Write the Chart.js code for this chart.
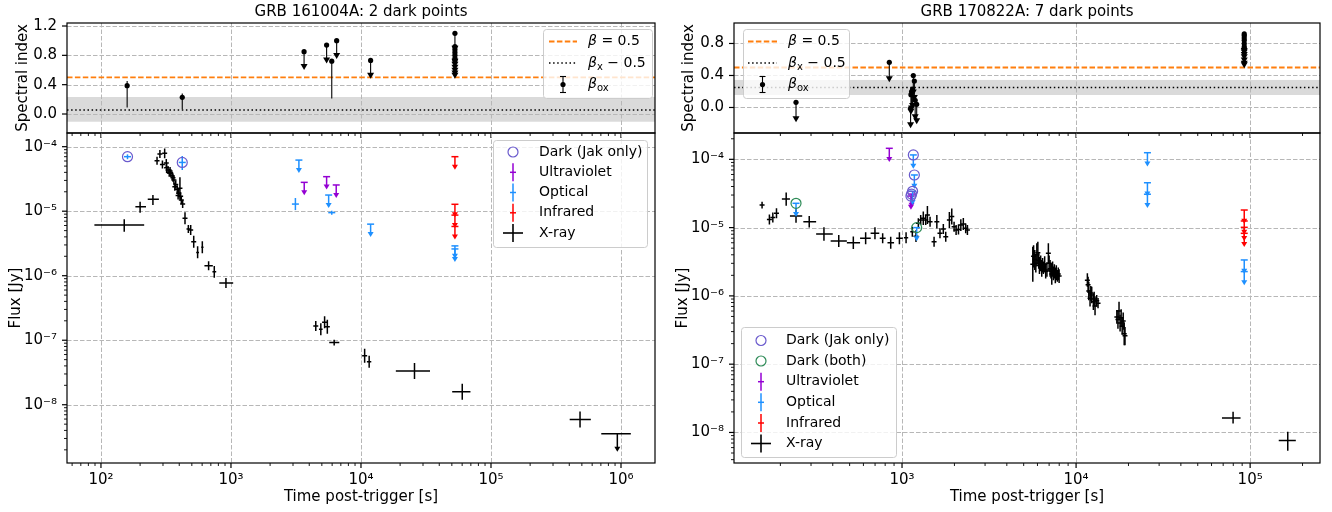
<!DOCTYPE html>
<html><head><meta charset="utf-8">
<script src="https://cdn.jsdelivr.net/npm/chart.js@4.4.1/dist/chart.umd.min.js"></script>
<style>
html,body{margin:0;padding:0;background:#fff;}
#wrap{position:relative;width:1332px;height:512px;overflow:hidden;background:#fff}
#wrap canvas{position:absolute}
</style></head><body><div id="wrap">
<canvas id="lt" width="670" height="140" style="left:0px;top:0px"></canvas>
<canvas id="lb" width="670" height="386" style="left:0px;top:126px"></canvas>
<canvas id="rt" width="666" height="140" style="left:666px;top:0px"></canvas>
<canvas id="rb" width="666" height="386" style="left:666px;top:126px"></canvas>
</div>
<script>
// ================= DATA: GRB 161004A (left) =================
const L_title = 'GRB 161004A: 2 dark points';
// X-ray: [t, tLow, tHigh, flux, fluxLow, fluxHigh]   (null: no horizontal bar)
const L_xray = [
  [151, 89, 215, 6.1e-6, 4.8e-6, 7.5e-6],
  [200, 184, 222, 1.17e-5, 9.5e-6, 1.40e-5],
  [251, 229, 279, 1.53e-5, 1.25e-5, 1.78e-5],
  [270, null, null, 6.06e-5, 5.26e-5, 6.99e-5],
  [284, null, null, 7.7e-5, 6.7e-5, 8.9e-5],
  [297, null, null, 5.3e-5, 4.6e-5, 6.1e-5],
  [309, null, null, 7.9e-5, 6.6e-5, 9.4e-5],
  [318, null, null, 5.6e-5, 4.86e-5, 6.46e-5],
  [320, null, null, 4.7e-5, 3.9e-5, 5.5e-5],
  [328, null, null, 4.35e-5, 3.77e-5, 5.02e-5],
  [335, null, null, 3.95e-5, 3.43e-5, 4.55e-5],
  [340, null, null, 4.2e-5, 3.64e-5, 4.84e-5],
  [345, null, null, 3.87e-5, 3.36e-5, 4.46e-5],
  [353, null, null, 3.55e-5, 3.08e-5, 4.09e-5],
  [358, null, null, 3.3e-5, 2.86e-5, 3.8e-5],
  [364, null, null, 3.05e-5, 2.65e-5, 3.52e-5],
  [370, null, null, 2.4e-5, 2.08e-5, 2.77e-5],
  [376, null, null, 2.6e-5, 2.25e-5, 3.0e-5],
  [386, null, null, 2.19e-5, 1.9e-5, 2.52e-5],
  [392, null, null, 1.75e-5, 1.52e-5, 2.02e-5],
  [396, null, null, 1.9e-5, 1.65e-5, 2.19e-5],
  [405, null, null, 2.26e-5, 1.53e-5, 3.35e-5],
  [410, null, null, 1.7e-5, 1.47e-5, 1.96e-5],
  [415, null, null, 1.49e-5, 1.29e-5, 1.72e-5],
  [425, null, null, 1.29e-5, 1.12e-5, 1.49e-5],
  [443, null, null, 7.76e-6, 6.26e-6, 9.61e-6],
  [470, 455, 485, 5.3e-6, 4.6e-6, 6.11e-6],
  [490, null, null, 5.1e-6, 4.27e-6, 6.09e-6],
  [517, null, null, 3.37e-6, 2.72e-6, 4.18e-6],
  [554, 540, 568, 2.3e-6, 1.86e-6, 2.85e-6],
  [602, 590, 615, 2.75e-6, 2.22e-6, 3.41e-6],
  [673, 625, 725, 1.43e-6, 1.22e-6, 1.68e-6],
  [744, 720, 770, 1.15e-6, 9.28e-7, 1.42e-6],
  [915, 813, 1040, 7.7e-7, 6.44e-7, 9.2e-7],
  [4490, null, null, 1.66e-7, 1.39e-7, 1.98e-7],
  [4910, 4750, 5070, 1.48e-7, 1.19e-7, 1.83e-7],
  [5250, null, null, 1.9e-7, 1.53e-7, 2.35e-7],
  [5510, null, null, 1.62e-7, 1.26e-7, 2.08e-7],
  [6220, 5700, 6810, 9.2e-8, 8.27e-8, 1.02e-7],
  [10670, null, null, 5.75e-8, 4.48e-8, 7.38e-8],
  [11560, 11100, 12000, 4.65e-8, 3.75e-8, 5.76e-8],
  [25800, 18540, 33960, 3.33e-8, 2.5e-8, 4.43e-8],
  [60100, 50300, 69500, 1.59e-8, 1.19e-8, 2.12e-8],
  [484000, 403000, 586000, 5.9e-9, 4.43e-9, 7.85e-9]
];
// X-ray upper limit: [t, tLow, tHigh, flux limit, arrow tip]
const L_xrayUL = [[937000, 705000, 1190000, 3.55e-9, 1.87e-9]];
// detections: [t, flux, fluxLow, fluxHigh]; upper limits: [t, flux]
const L_optDet = [[160, 7.0e-5, 6.4e-5, 7.6e-5], [422, 5.7e-5, 4.35e-5, 7.18e-5], [3130, 1.29e-5, 1.04e-5, 1.6e-5], [5960, 9.5e-6, 8.8e-6, 1.02e-5]];
const L_optUL = [[3330, 6.2e-5], [5640, 1.78e-5], [11860, 6.3e-6], [52800, 2.9e-6], [52800, 2.6e-6]];
const L_uvUL = [[3660, 2.8e-5], [5440, 3.43e-5], [6450, 2.55e-5]];
const L_irUL = [[52800, 7.0e-5], [52800, 1.28e-5], [52800, 8.7e-6], [52800, 5.8e-6]];
const L_darkJak = [[160, 7.0e-5], [422, 5.7e-5]];
// spectral index beta_ox: [t, value, low, high]; limits: [t, value]
const L_betaOx = [[159, 0.386, 0.09, 0.45], [422, 0.228, 0.064, 0.28], [5960, 0.72, 0.21, 0.74]];
const L_betaOxUL = [[3650, 0.85], [5440, 0.94], [6500, 1.00], [11860, 0.73], [52800, 1.10], [52800, 0.92], [52800, 0.88], [52800, 0.84], [52800, 0.80], [52800, 0.76], [52800, 0.73]];
const L_betaRef = 0.5;
const L_betaXm = 0.055;
const L_betaXband = [-0.105, 0.232];

// ================= DATA: GRB 170822A (right) =================
const R_title = 'GRB 170822A: 7 dark points';
const R_xray = [
  [157, null, null, 2.14e-5, 1.91e-5, 2.39e-5],
  [173, null, null, 1.32e-5, 1.11e-5, 1.56e-5],
  [181, null, null, 1.41e-5, 1.19e-5, 1.67e-5],
  [190, null, null, 1.62e-5, 1.37e-5, 1.92e-5],
  [216, 204, 227, 2.62e-5, 2.09e-5, 3.28e-5],
  [246, 227, 267, 1.48e-5, 1.18e-5, 1.85e-5],
  [293, 271, 321, 1.22e-5, 1.0e-5, 1.48e-5],
  [356, 321, 400, 8.05e-6, 6.42e-6, 1.01e-5],
  [433, 389, 482, 6.36e-6, 5.2e-6, 7.78e-6],
  [525, 482, 574, 6.0e-6, 4.85e-6, 7.42e-6],
  [618, 574, 661, 6.97e-6, 5.69e-6, 8.53e-6],
  [699, 660, 740, 8.26e-6, 6.75e-6, 1.01e-5],
  [774, 745, 805, 6.97e-6, 5.89e-6, 8.25e-6],
  [861, 825, 900, 6.0e-6, 4.9e-6, 7.34e-6],
  [966, 925, 1010, 6.97e-6, 5.69e-6, 8.53e-6],
  [1055, 1025, 1085, 7.1e-6, 5.9e-6, 8.55e-6],
  [1146, 1115, 1180, 8.7e-6, 7.35e-6, 1.03e-5],
  [1203, null, null, 7.5e-6, 6.17e-6, 9.12e-6],
  [1241, null, null, 1.16e-5, 9.8e-6, 1.37e-5],
  [1280, null, null, 1.29e-5, 1.09e-5, 1.53e-5],
  [1325, null, null, 1.37e-5, 1.09e-5, 1.72e-5],
  [1368, null, null, 1.29e-5, 1.09e-5, 1.53e-5],
  [1399, null, null, 1.53e-5, 1.13e-5, 2.07e-5],
  [1449, null, null, 1.22e-5, 1.03e-5, 1.44e-5],
  [1528, null, null, 6.2e-6, 5.24e-6, 7.34e-6],
  [1585, null, null, 1.22e-5, 9.74e-6, 1.53e-5],
  [1652, null, null, 8.26e-6, 6.98e-6, 9.78e-6],
  [1727, null, null, 9.55e-6, 8.07e-6, 1.13e-5],
  [1783, null, null, 7.36e-6, 6.22e-6, 8.71e-6],
  [1871, null, null, 1.29e-5, 9.85e-6, 1.69e-5],
  [1931, null, null, 1.45e-5, 1.11e-5, 1.9e-5],
  [1991, null, null, 1.03e-5, 8.7e-6, 1.22e-5],
  [2045, null, null, 9.2e-6, 7.77e-6, 1.09e-5],
  [2110, null, null, 9.4e-6, 7.94e-6, 1.11e-5],
  [2177, null, null, 1.09e-5, 8.9e-6, 1.33e-5],
  [2250, null, null, 1.13e-5, 9.2e-6, 1.38e-5],
  [2322, null, null, 9.75e-6, 8.24e-6, 1.15e-5],
  [2375, null, null, 9.2e-6, 7.77e-6, 1.09e-5],
  [5640, null, null, 2.9e-6, 1.61e-6, 5.25e-6],
  [5700, null, null, 3.8e-6, 2.6e-6, 5.5e-6],
  [5790, null, null, 3.4e-6, 2.4e-6, 4.7e-6],
  [5870, null, null, 3.0e-6, 2.2e-6, 4.1e-6],
  [5950, null, null, 4.0e-6, 2.7e-6, 5.9e-6],
  [6030, null, null, 4.3e-6, 3.0e-6, 6.2e-6],
  [6100, null, null, 3.3e-6, 2.5e-6, 4.4e-6],
  [6160, null, null, 2.8e-6, 2.1e-6, 3.7e-6],
  [6260, null, null, 3.0e-6, 2.3e-6, 3.9e-6],
  [6350, null, null, 2.5e-6, 1.9e-6, 3.35e-6],
  [6420, null, null, 2.8e-6, 2.2e-6, 3.6e-6],
  [6490, null, null, 2.6e-6, 2.1e-6, 3.2e-6],
  [6600, null, null, 2.9e-6, 2.2e-6, 3.8e-6],
  [6690, null, null, 2.3e-6, 1.8e-6, 3.0e-6],
  [6800, null, null, 2.4e-6, 1.9e-6, 3.1e-6],
  [6930, null, null, 4.2e-6, 3.0e-6, 5.9e-6],
  [7000, null, null, 3.0e-6, 2.3e-6, 3.9e-6],
  [7090, null, null, 2.5e-6, 1.9e-6, 3.35e-6],
  [7170, null, null, 2.3e-6, 1.8e-6, 3.0e-6],
  [7250, null, null, 2.1e-6, 1.45e-6, 3.0e-6],
  [7330, null, null, 2.5e-6, 1.9e-6, 3.2e-6],
  [7410, null, null, 2.15e-6, 1.7e-6, 2.7e-6],
  [7500, null, null, 2.3e-6, 1.8e-6, 2.9e-6],
  [7600, null, null, 2.0e-6, 1.53e-6, 2.6e-6],
  [7700, null, null, 2.2e-6, 1.7e-6, 2.8e-6],
  [7810, null, null, 1.97e-6, 1.61e-6, 2.4e-6],
  [7900, null, null, 2.1e-6, 1.7e-6, 2.6e-6],
  [7990, null, null, 1.95e-6, 1.55e-6, 2.45e-6],
  [11610, null, null, 1.7e-6, 1.36e-6, 2.14e-6],
  [11720, null, null, 1.45e-6, 1.1e-6, 1.9e-6],
  [11830, null, null, 1.18e-6, 8.6e-7, 1.61e-6],
  [12030, null, null, 9.2e-7, 7.0e-7, 1.22e-6],
  [12150, null, null, 1.1e-6, 8.5e-7, 1.4e-6],
  [12300, null, null, 1.03e-6, 7.8e-7, 1.36e-6],
  [12570, null, null, 8.2e-7, 6.2e-7, 1.09e-6],
  [12700, null, null, 9.0e-7, 7.0e-7, 1.15e-6],
  [12850, null, null, 7.1e-7, 5.2e-7, 9.8e-7],
  [13140, null, null, 8.5e-7, 7.0e-7, 1.03e-6],
  [13370, null, null, 7.8e-7, 6.6e-7, 9.3e-7],
  [17150, null, null, 4.9e-7, 3.9e-7, 6.2e-7],
  [17400, null, null, 4.5e-7, 3.3e-7, 6.2e-7],
  [17650, null, null, 6.0e-7, 4.4e-7, 8.2e-7],
  [17900, null, null, 4.0e-7, 3.0e-7, 5.3e-7],
  [18150, null, null, 4.8e-7, 3.6e-7, 6.4e-7],
  [18400, null, null, 3.6e-7, 2.7e-7, 4.8e-7],
  [18650, null, null, 4.3e-7, 3.2e-7, 5.7e-7],
  [18900, null, null, 2.8e-7, 1.9e-7, 4.1e-7],
  [19100, null, null, 2.6e-7, 1.9e-7, 3.5e-7],
  [79800, 68900, 88100, 1.63e-8, 1.35e-8, 2.01e-8],
  [164500, 146000, 183000, 7.6e-9, 5.4e-9, 1.02e-8]
];
const R_xrayUL = [];
const R_optDet = [];
const R_optUL = [[246, 2.27e-5], [1214, 1.0e-5], [1161, 1.16e-4], [1177, 5.9e-5], [1150, 3.4e-5], [25700, 1.25e-4], [25700, 4.54e-5], [25700, 3.08e-5], [92500, 3.36e-6], [92500, 2.27e-6]];
const R_uvUL = [[845, 1.45e-4], [1135, 3.1e-5], [1125, 2.9e-5]];
const R_irUL = [[92500, 1.81e-5], [92500, 1.25e-5], [92500, 1.01e-5], [92500, 8.25e-6]];
const R_darkJak = [[1161, 1.16e-4], [1177, 5.9e-5], [1150, 3.4e-5], [1135, 3.1e-5], [1125, 2.9e-5]];
const R_darkBoth = [[246, 2.27e-5], [1214, 1.0e-5]];
const R_betaOx = [];
const R_betaOxUL = [[246, 0.065], [845, 0.565], [1161, 0.40], [1177, 0.33], [1150, 0.23], [1135, 0.20], [1125, 0.16], [1190, 0.09], [1214, 0.04], [1120, -0.01],
  [92500, 0.92], [92500, 0.90], [92500, 0.87], [92500, 0.84], [92500, 0.80], [92500, 0.76], [92500, 0.74]];
const R_betaRef = 0.5;
const R_betaXm = 0.25;
const R_betaXband = [0.156, 0.344];

// limit arrow lengths
const UL_FRAC = 0.37;      // flux upper-limit arrow: tip at flux*(1-UL_FRAC)
const BETA_ARROW = 0.25;   // spectral index limit arrow length

// tick labels
const L_xMajor = [1e2, 1e3, 1e4, 1e5, 1e6];
const R_xMajor = [1e3, 1e4, 1e5];
const L_betaTicks = [0.0, 0.4, 0.8, 1.2];
const R_betaTicks = [0.0, 0.4, 0.8];

// ================= helpers =================
Chart.defaults.font.family = "'DejaVu Sans', sans-serif";
Chart.defaults.font.size = 15;
Chart.defaults.color = '#000';
const COL = { uv: '#9400d3', opt: '#1e90ff', ir: '#ff0000', jak: '#6a5acd', both: '#2e8b57', orange: '#ff7f0e' };
const SUP = {'-':'⁻','0':'⁰','1':'¹','2':'²','3':'³','4':'⁴','5':'⁵','6':'⁶','7':'⁷','8':'⁸','9':'⁹'};
function powLabel(v) { const e = Math.round(Math.log10(v)); return '10' + String(e).replace(/./g, c => SUP[c]); }
function logTickList(min, max) {
  const out = [];
  for (let e = Math.floor(Math.log10(min)); e <= Math.ceil(Math.log10(max)); e++)
    for (let m = 1; m <= 9; m++) { const v = parseFloat(m + 'e' + e); if (v >= min && v <= max) out.push({ value: v, major: m === 1 }); }
  return out;
}
const xrayPts = a => a.map(r => ({ x: r[0], xlo: r[1], xhi: r[2], y: r[3], ylo: r[4], yhi: r[5] }));
const xrayULPts = a => a.map(r => ({ x: r[0], xlo: r[1], xhi: r[2], y: r[3], tip: r[4] }));
const detPts = a => a.map(r => ({ x: r[0], y: r[1], ylo: r[2], yhi: r[3] }));
const ulPts = a => a.map(r => ({ x: r[0], y: r[1], tip: r[1] * (1 - UL_FRAC) }));
const ptPts = a => a.map(r => ({ x: r[0], y: r[1] }));
const betaPts = a => a.map(r => ({ x: r[0], y: r[1], ylo: r[2], yhi: r[3] }));
const betaULPts = a => a.map(r => ({ x: r[0], y: r[1], tip: r[1] - BETA_ARROW }));

function tri(ctx, x, yTip, w, h) { ctx.beginPath(); ctx.moveTo(x - w, yTip - h); ctx.lineTo(x + w, yTip - h); ctx.lineTo(x, yTip); ctx.closePath(); ctx.fill(); }
function seg(ctx, x0, y0, x1, y1) { ctx.beginPath(); ctx.moveTo(x0, y0); ctx.lineTo(x1, y1); ctx.stroke(); }

const marksPlugin = {
  id: 'marks',
  afterDatasetsDraw(chart) {
    const { ctx, chartArea: a } = chart; const xs = chart.scales.x, ys = chart.scales.y;
    ctx.save(); ctx.beginPath(); ctx.rect(a.left, a.top, a.right - a.left, a.bottom - a.top); ctx.clip();
    ctx.setLineDash([]);
    chart.data.datasets.forEach(ds => {
      ctx.strokeStyle = ds.markColor; ctx.fillStyle = ds.markColor;
      ds.data.forEach(p => {
        const X = xs.getPixelForValue(p.x), Y = ys.getPixelForValue(p.y);
        if (ds.kind === 'xray') {
          ctx.lineWidth = 1.5; ctx.beginPath();
          ctx.moveTo(X, ys.getPixelForValue(p.ylo)); ctx.lineTo(X, ys.getPixelForValue(p.yhi));
          if (p.xlo != null) { ctx.moveTo(xs.getPixelForValue(p.xlo), Y); ctx.lineTo(xs.getPixelForValue(p.xhi), Y); }
          else { ctx.moveTo(X - 2.5, Y); ctx.lineTo(X + 2.5, Y); }
          ctx.stroke();
        } else if (ds.kind === 'xrayUL') {
          const T = ys.getPixelForValue(p.tip);
          ctx.lineWidth = 1.5;
          seg(ctx, xs.getPixelForValue(p.xlo), Y, xs.getPixelForValue(p.xhi), Y);
          seg(ctx, X, Y, X, T - 4); tri(ctx, X, T, 3, 5);
        } else if (ds.kind === 'det') {
          ctx.lineWidth = 1.5;
          seg(ctx, X, ys.getPixelForValue(p.ylo), X, ys.getPixelForValue(p.yhi));
          seg(ctx, X - 3.5, Y, X + 3.5, Y);
        } else if (ds.kind === 'ul') {
          const T = ys.getPixelForValue(p.tip);
          ctx.lineWidth = 1.5;
          seg(ctx, X - 3.5, Y, X + 3.5, Y);
          seg(ctx, X, Y, X, T - 4); tri(ctx, X, T, 3, 5);
        } else if (ds.kind === 'dark') {
          ctx.lineWidth = 1.2; ctx.beginPath(); ctx.arc(X, Y, 5, 0, Math.PI * 2); ctx.stroke();
        } else if (ds.kind === 'beta') {
          ctx.lineWidth = 1.1;
          seg(ctx, X, ys.getPixelForValue(p.ylo), X, ys.getPixelForValue(p.yhi));
          ctx.beginPath(); ctx.arc(X, Y, 2.6, 0, Math.PI * 2); ctx.fill();
        } else if (ds.kind === 'betaUL') {
          const T = ys.getPixelForValue(p.tip);
          ctx.lineWidth = 1.1;
          seg(ctx, X, Y, X, T - 5); tri(ctx, X, T, 3.5, 6);
          ctx.beginPath(); ctx.arc(X, Y, 2.6, 0, Math.PI * 2); ctx.fill();
        }
      });
    });
    ctx.restore();
  }
};

function drawParts(ctx, parts, x, y) {
  ctx.textBaseline = 'middle'; ctx.textAlign = 'left'; ctx.fillStyle = '#000';
  parts.forEach(([t, st]) => {
    let font = '14px "DejaVu Sans"', dy = 0;
    if (st === 'i') font = 'italic 14px "DejaVu Sans"';
    if (st === 'sub') { font = '10px "DejaVu Sans"'; dy = 4; }
    ctx.font = font; ctx.fillText(t, x, y + dy); x += ctx.measureText(t).width;
  });
}
function drawHandle(ctx, h, x0, x1, y) {
  const cx = (x0 + x1) / 2;
  ctx.save(); ctx.setLineDash([]);
  if (h.k === 'dash') { ctx.strokeStyle = COL.orange; ctx.lineWidth = 1.8; ctx.setLineDash([5.5, 2.4]); seg(ctx, x0, y, x1, y); }
  else if (h.k === 'dot') { ctx.strokeStyle = '#000'; ctx.lineWidth = 1.6; ctx.setLineDash([1.5, 2.6]); seg(ctx, x0, y, x1, y); }
  else if (h.k === 'betaox') { ctx.strokeStyle = '#000'; ctx.fillStyle = '#000'; ctx.lineWidth = 1.1; seg(ctx, cx, y - 8, cx, y + 8); seg(ctx, cx - 3, y - 8, cx + 3, y - 8); seg(ctx, cx - 3, y + 8, cx + 3, y + 8); ctx.beginPath(); ctx.arc(cx, y, 2.6, 0, 7); ctx.fill(); }
  else if (h.k === 'circle') { ctx.strokeStyle = h.c; ctx.lineWidth = 1.2; ctx.beginPath(); ctx.arc(cx, y, 5, 0, 7); ctx.stroke(); }
  else if (h.k === 'eb') { ctx.strokeStyle = h.c; ctx.lineWidth = 1.5; seg(ctx, cx, y - 9, cx, y + 9); seg(ctx, cx - 3, y, cx + 3, y); }
  else if (h.k === 'cross') { ctx.strokeStyle = '#000'; ctx.lineWidth = 1.6; seg(ctx, cx - 10, y, cx + 10, y); seg(ctx, cx, y - 9, cx, y + 9); }
  ctx.restore();
}
function drawLegend(ctx, L) {
  ctx.save(); ctx.setLineDash([]);
  ctx.beginPath();
  if (ctx.roundRect) ctx.roundRect(L.x + 0.5, L.y + 0.5, L.w, L.h, 3); else ctx.rect(L.x + 0.5, L.y + 0.5, L.w, L.h);
  ctx.fillStyle = 'rgba(255,255,255,0.8)'; ctx.fill();
  ctx.strokeStyle = '#cccccc'; ctx.lineWidth = 1; ctx.stroke();
  L.rows.forEach(r => { drawHandle(ctx, r.h, L.hx0, L.hx1, r.y); drawParts(ctx, r.parts, L.tx, r.y); });
  ctx.restore();
}

const decoPlugin = {
  id: 'deco',
  beforeDatasetsDraw(chart, args, o) {
    const { ctx, chartArea: a } = chart; const xs = chart.scales.x, ys = chart.scales.y;
    ctx.save();
    if (o.band) {
      const yT = ys.getPixelForValue(o.band[1]), yB = ys.getPixelForValue(o.band[0]);
      ctx.fillStyle = 'rgba(211,211,211,0.85)'; ctx.fillRect(a.left, yT, a.right - a.left, yB - yT);
    }
    ctx.strokeStyle = '#b7b7b7'; ctx.lineWidth = 1; ctx.setLineDash([4.5, 2]);
    ctx.beginPath();
    xs.ticks.forEach(t => { if (t.major) { const p = Math.round(xs.getPixelForValue(t.value)) + 0.5; ctx.moveTo(p, a.top); ctx.lineTo(p, a.bottom); } });
    ys.ticks.forEach(t => { if (t.major) { const p = Math.round(ys.getPixelForValue(t.value)) + 0.5; ctx.moveTo(a.left, p); ctx.lineTo(a.right, p); } });
    ctx.stroke();
    (o.hlines || []).forEach(h => {
      ctx.strokeStyle = h.color; ctx.lineWidth = h.width; ctx.setLineDash(h.dash);
      const p = ys.getPixelForValue(h.value); seg(ctx, a.left, p, a.right, p);
    });
    ctx.restore();
  },
  afterDraw(chart, args, o) {
    const { ctx, chartArea: a } = chart; const xs = chart.scales.x, ys = chart.scales.y;
    ctx.save(); ctx.setLineDash([]); ctx.strokeStyle = '#000';
    xs.ticks.forEach(t => { const p = xs.getPixelForValue(t.value); ctx.lineWidth = t.major ? 1.2 : 0.9; seg(ctx, p, a.bottom, p, a.bottom + (t.major ? 5 : 3)); });
    ys.ticks.forEach(t => { const p = ys.getPixelForValue(t.value); ctx.lineWidth = t.major ? 1.2 : 0.9; seg(ctx, a.left, p, a.left - (t.major ? 5 : 3), p); });
    ctx.lineWidth = 1.2; ctx.strokeRect(a.left, a.top, a.right - a.left, a.bottom - a.top);
    if (o.legend) drawLegend(ctx, o.legend);
    ctx.restore();
  }
};

function xScale(min, max, labels) {
  return {
    type: 'logarithmic', position: 'bottom', min, max, bounds: 'data',
    grid: { display: false, drawTicks: false, tickLength: 0 }, border: { display: false },
    afterBuildTicks: s => { s.ticks = logTickList(min, max); },
    afterFit: s => { s.height = labels ? 49 : 7; s.paddingLeft = 0; s.paddingRight = 0; },
    ticks: { display: labels, autoSkip: false, maxRotation: 0, minRotation: 0, padding: 8, font: { size: 15 },
      callback: (v, i, t) => (t[i].major ? powLabel(v) : '') },
    title: labels ? { display: true, text: 'Time post-trigger [s]', font: { size: 15 }, padding: { top: 0, bottom: 6 } } : { display: false }
  };
}
function yLogScale(min, max, width, titlePad) {
  return {
    type: 'logarithmic', position: 'left', min, max, bounds: 'data',
    grid: { display: false, drawTicks: false, tickLength: 0 }, border: { display: false },
    afterBuildTicks: s => { s.ticks = logTickList(min, max); },
    afterFit: s => { s.width = width; s.paddingTop = 0; s.paddingBottom = 0; },
    ticks: { autoSkip: false, padding: 10, font: { size: 15 }, callback: (v, i, t) => (t[i].major ? powLabel(v) : '') },
    title: { display: true, text: 'Flux [Jy]', font: { size: 15 }, padding: { top: titlePad, bottom: 0 } }
  };
}
function yLinScale(min, max, ticksArr, width, titlePad) {
  return {
    type: 'linear', position: 'left', min, max, bounds: 'data',
    grid: { display: false, drawTicks: false, tickLength: 0 }, border: { display: false },
    afterBuildTicks: s => { s.ticks = ticksArr.map(v => ({ value: v, major: true })); },
    afterFit: s => { s.width = width; s.paddingTop = 0; s.paddingBottom = 0; },
    ticks: { autoSkip: false, padding: 10, font: { size: 15 }, callback: v => Number(v).toFixed(1) },
    title: { display: true, text: 'Spectral index', font: { size: 15 }, padding: { top: titlePad, bottom: 0 } }
  };
}
const base = { responsive: false, animation: false, devicePixelRatio: 1, events: [] };
function ds(kind, color, data) { return { kind, markColor: color, data, pointRadius: 0, showLine: false }; }

const topLegendRows = [
  { y: 41.5, h: { k: 'dash' }, parts: [['β', 'i'], [' = 0.5', 'n']] },
  { y: 63, h: { k: 'dot' }, parts: [['β', 'i'], ['x', 'sub'], [' − 0.5', 'n']] },
  { y: 84.5, h: { k: 'betaox' }, parts: [['β', 'i'], ['ox', 'sub']] }
];

// ----- left top -----
new Chart(document.getElementById('lt'), {
  type: 'scatter',
  data: { datasets: [ds('beta', '#000', betaPts(L_betaOx)), ds('betaUL', '#000', betaULPts(L_betaOxUL))] },
  options: Object.assign({}, base, {
    layout: { padding: { left: 0, right: 15, top: 0, bottom: 0 } },
    scales: { x: xScale(54.8, 1.826e6, false), y: yLinScale(-0.259, 1.241, L_betaTicks, 67, 14) },
    plugins: {
      legend: { display: false }, tooltip: { enabled: false },
      title: { display: true, text: L_title, fullSize: false, font: { size: 15, weight: 'normal' }, padding: { top: 3, bottom: 2 } },
      deco: { band: L_betaXband, hlines: [{ value: L_betaRef, color: COL.orange, width: 1.8, dash: [5.5, 2.4] }, { value: L_betaXm, color: '#000', width: 1.6, dash: [1.5, 2.6] }],
        legend: { x: 543, y: 29, w: 109, h: 69, hx0: 549, hx1: 577, tx: 588, rows: topLegendRows } }
    }
  }),
  plugins: [decoPlugin, marksPlugin]
});

// ----- left bottom -----
new Chart(document.getElementById('lb'), {
  type: 'scatter',
  data: { datasets: [
    ds('xray', '#000', xrayPts(L_xray)), ds('xrayUL', '#000', xrayULPts(L_xrayUL)),
    ds('ul', COL.uv, ulPts(L_uvUL)), ds('det', COL.opt, detPts(L_optDet)), ds('ul', COL.opt, ulPts(L_optUL)),
    ds('ul', COL.ir, ulPts(L_irUL)), ds('dark', COL.jak, ptPts(L_darkJak))
  ] },
  options: Object.assign({}, base, {
    layout: { padding: { left: 0, right: 15, top: 7, bottom: 0 } },
    scales: { x: xScale(54.8, 1.826e6, true), y: yLogScale(1.25e-9, 1.63e-4, 67, 7) },
    plugins: {
      legend: { display: false }, tooltip: { enabled: false }, title: { display: false },
      deco: { legend: { x: 493, y: 14, w: 154, h: 107, hx0: 503, hx1: 523, tx: 539, rows: [
        { y: 26, h: { k: 'circle', c: COL.jak }, parts: [['Dark (Jak only)', 'n']] },
        { y: 46.3, h: { k: 'eb', c: COL.uv }, parts: [['Ultraviolet', 'n']] },
        { y: 66.5, h: { k: 'eb', c: COL.opt }, parts: [['Optical', 'n']] },
        { y: 86.8, h: { k: 'eb', c: COL.ir }, parts: [['Infrared', 'n']] },
        { y: 107, h: { k: 'cross' }, parts: [['X-ray', 'n']] }
      ] } }
    }
  }),
  plugins: [decoPlugin, marksPlugin]
});

// ----- right top -----
new Chart(document.getElementById('rt'), {
  type: 'scatter',
  data: { datasets: [ds('beta', '#000', betaPts(R_betaOx)), ds('betaUL', '#000', betaULPts(R_betaOxUL))] },
  options: Object.assign({}, base, {
    layout: { padding: { left: 0, right: 12, top: 0, bottom: 0 } },
    scales: { x: xScale(108.3, 2.52e5, false), y: yLinScale(-0.319, 1.056, R_betaTicks, 68, 14) },
    plugins: {
      legend: { display: false }, tooltip: { enabled: false },
      title: { display: true, text: R_title, fullSize: false, font: { size: 15, weight: 'normal' }, padding: { top: 3, bottom: 2 } },
      deco: { band: R_betaXband, hlines: [{ value: R_betaRef, color: COL.orange, width: 1.8, dash: [5.5, 2.4] }, { value: R_betaXm, color: '#000', width: 1.6, dash: [1.5, 2.6] }],
        legend: { x: 77, y: 29, w: 106, h: 69, hx0: 82, hx1: 111, tx: 122, rows: topLegendRows } }
    }
  }),
  plugins: [decoPlugin, marksPlugin]
});

// ----- right bottom -----
new Chart(document.getElementById('rb'), {
  type: 'scatter',
  data: { datasets: [
    ds('xray', '#000', xrayPts(R_xray)), ds('xrayUL', '#000', xrayULPts(R_xrayUL)),
    ds('ul', COL.uv, ulPts(R_uvUL)), ds('det', COL.opt, detPts(R_optDet)), ds('ul', COL.opt, ulPts(R_optUL)),
    ds('ul', COL.ir, ulPts(R_irUL)), ds('dark', COL.jak, ptPts(R_darkJak)), ds('dark', COL.both, ptPts(R_darkBoth))
  ] },
  options: Object.assign({}, base, {
    layout: { padding: { left: 0, right: 12, top: 7, bottom: 0 } },
    scales: { x: xScale(108.3, 2.52e5, true), y: yLogScale(3.57e-9, 2.43e-4, 68, 8) },
    plugins: {
      legend: { display: false }, tooltip: { enabled: false }, title: { display: false },
      deco: { legend: { x: 75, y: 201, w: 155, h: 130, hx0: 85, hx1: 105, tx: 120, rows: [
        { y: 214.5, h: { k: 'circle', c: COL.jak }, parts: [['Dark (Jak only)', 'n']] },
        { y: 235, h: { k: 'circle', c: COL.both }, parts: [['Dark (both)', 'n']] },
        { y: 255.7, h: { k: 'eb', c: COL.uv }, parts: [['Ultraviolet', 'n']] },
        { y: 276.3, h: { k: 'eb', c: COL.opt }, parts: [['Optical', 'n']] },
        { y: 297, h: { k: 'eb', c: COL.ir }, parts: [['Infrared', 'n']] },
        { y: 317.5, h: { k: 'cross' }, parts: [['X-ray', 'n']] }
      ] } }
    }
  }),
  plugins: [decoPlugin, marksPlugin]
});
</script></body></html>
